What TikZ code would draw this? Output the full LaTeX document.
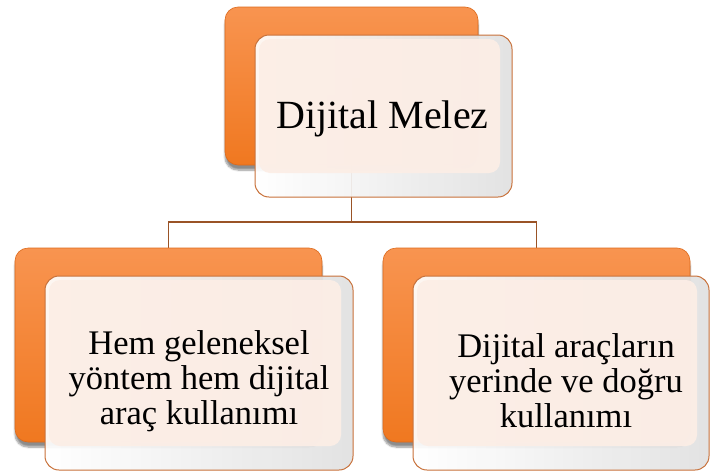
\documentclass[tikz,border=0pt]{standalone}
\usepackage{fontspec}
\setmainfont{Liberation Serif}
\newfontfamily\timesx{Liberation Serif}
\usetikzlibrary{shadows.blur}
\definecolor{orgtop}{HTML}{F89450}
\definecolor{orgbot}{HTML}{F07820}
\definecolor{orgline}{HTML}{DC6A1C}
\definecolor{frontline}{HTML}{C8713A}
\definecolor{peach}{HTML}{FCEEE6}
\definecolor{connbrown}{HTML}{9A5326}
\tikzset{
  backbox/.style={rounded corners=13pt, draw=orgline, line width=0.6pt,
    top color=orgtop, bottom color=orgbot,
    blur shadow={shadow xshift=0pt, shadow yshift=-5pt, shadow blur steps=8, shadow opacity=45}},
  frontbox/.style={rounded corners=14pt, draw=frontline, line width=1pt,
    left color=white, right color=black!12, fill opacity=0.93,
    inner sep=0pt,
    path picture={\fill[peach, rounded corners=11pt]
      ([xshift=4pt,yshift=-4pt]path picture bounding box.north west) rectangle
      ([xshift=-12pt,yshift=24pt]path picture bounding box.south east);}},
  conn/.style={draw=connbrown, line width=1.8pt},
  toptext/.style={font=\timesx\fontsize{40}{46}\selectfont, inner sep=0pt},
  subtext/.style={font=\timesx\fontsize{34.5}{35}\selectfont, align=center, inner sep=0pt}
}
\begin{document}
\begin{tikzpicture}[x=1pt,y=-1pt]
\useasboundingbox (0,0) rectangle (711,474);
\node[minimum width=253pt, minimum height=158pt] (topback) at (351.5,86) {};
\node[minimum width=307pt, minimum height=194pt] (leftback) at (168.5,345) {};
\node[minimum width=307pt, minimum height=194pt] (rightback) at (536.5,345) {};
\coordinate (bus) at (351.5,222);
% connectors
\draw[conn] (topback.south) -- (bus) -| (leftback.north);
\draw[conn] (bus) -| (rightback.north);
% back boxes
\node[backbox, minimum width=253pt, minimum height=158pt] at (topback) {};
\node[backbox, minimum width=307pt, minimum height=194pt] at (leftback) {};
\node[backbox, minimum width=307pt, minimum height=194pt] at (rightback) {};
% front boxes
\node[frontbox, minimum width=257pt, minimum height=162pt] (topfront) at (383.5,116) {};
\node[frontbox, minimum width=308pt, minimum height=194pt] (leftfront) at (199,373) {};
\node[frontbox, minimum width=296pt, minimum height=194pt] (rightfront) at (561,373) {};
% texts
\node[toptext] (toplabel) at ([xshift=-1pt,yshift=-3pt]topfront.center) {Dijital Melez};
\node[subtext] (leftlabel) at ([yshift=-8pt]leftfront.center) {Hem geleneksel\\yöntem hem dijital\\araç kullanımı};
\node[subtext] (rightlabel) at ([xshift=5pt,yshift=-8pt]rightfront.center) {Dijital araçların\\yerinde ve doğru\\kullanımı};
\end{tikzpicture}
\end{document}
